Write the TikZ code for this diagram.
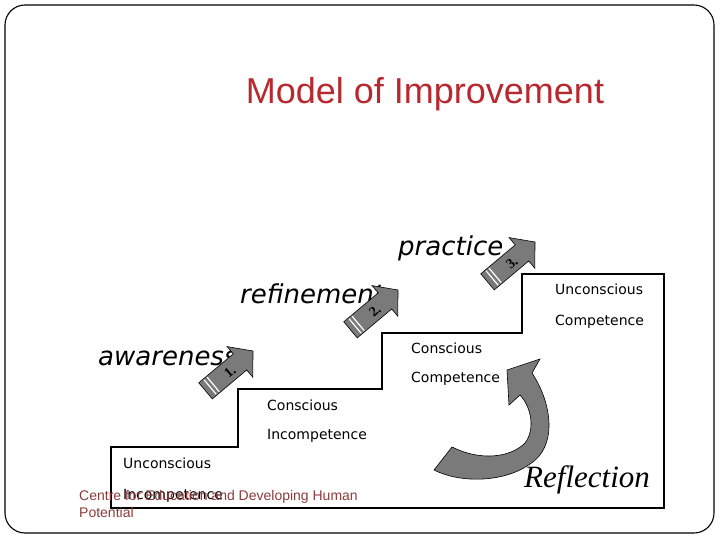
\documentclass[tikz,border=0pt]{standalone}
\usepackage{fontspec}
\setmainfont{Liberation Serif}
\newfontfamily\titlefont{Liberation Sans}
\newfontfamily\stepfont{DejaVu Sans}
\newfontfamily\handfont{DejaVu Sans}
\usetikzlibrary{positioning}
\definecolor{titlered}{HTML}{B8292F}
\definecolor{footred}{HTML}{8E3B3B}
\definecolor{arrowgray}{HTML}{7A7A7A}

\begin{document}
\begin{tikzpicture}[
  x=1pt, y=-1pt,
  frame/.style={draw, line width=1.1pt, rounded corners=20pt},
  stairs/.style={draw, line width=2.6pt, line join=miter},
  stage/.style={font=\stepfont\fontsize{14}{16}\selectfont, anchor=base west, inner sep=0pt},
  phase/.style={font=\handfont\itshape\fontsize{26}{30}\selectfont, anchor=base west, inner sep=0pt},
  blockar/.style={fill=arrowgray, draw=black, line width=0.6pt, line join=miter},
  stepar/.pic={
    \path[blockar] (0,0) -- (-17,20) -- (-17,10.5) -- (-62,10.5) -- (-62,-10.5)
      -- (-17,-10.5) -- (-17,-20) -- cycle;
    \draw[white, line width=1.2pt] (-52,9.5) -- (-52,-9.5) (-56,9.5) -- (-56,-9.5);
    \node[font=\bfseries\fontsize{14}{14}\selectfont, transform shape] (-lbl) at (-31,1) {#1};
  }
]
\useasboundingbox (0,0) rectangle (720,540);
\path[frame] (5,5) rectangle (714,533);

\node[font=\titlefont\fontsize{36}{40}\selectfont, text=titlered, anchor=base] (title) at (425,104) {Model of Improvement};

% staircase
\path[stairs] (111,508) -- (111,447) -- (238,447) -- (238,389) -- (382,389)
  -- (382,333) -- (522,333) -- (522,274) -- (664,274) -- (664,508) -- cycle;

\node[stage] (uc1) at (123,468) {Unconscious};
\node[stage] (ui1) at (123,499) {Incompetence};
\node[stage] (cc1) at (267,410) {Conscious};
\node[stage] (ci1) at (267,439) {Incompetence};
\node[stage] (cc2) at (411,353) {Conscious};
\node[stage] (cp2) at (411,382) {Competence};
\node[stage] (uc2) at (555,294) {Unconscious};
\node[stage] (up2) at (555,325) {Competence};

% phases
\node[phase] (aware) at (98,365) {awareness};
\node[phase] (refine) at (240,303) {refinement};
\node[phase] (practice) at (398,255) {practice};

\pic[rotate=40] (one) at (253,351) {stepar=1.};
\pic[rotate=40] (two) at (398,290) {stepar=2.};
\pic[rotate=40] (three) at (535,242) {stepar=3.};

% reflection arrow
\path[blockar] (540,359) -- (532,373)
  .. controls (553,405) and (557,447) .. (530,464)
  .. controls (505,482) and (462,484) .. (434,470)
  -- (452,447)
  .. controls (480,461) and (510,458) .. (525,443)
  .. controls (535,430) and (532,408) .. (520,395)
  -- (509,405) -- (507,370) -- cycle;
\node[font=\itshape\fontsize{31}{34}\selectfont, anchor=base west, inner sep=0pt] (refl) at (524,487) {Reflection};

\node[font=\titlefont\fontsize{14}{16.5}\selectfont, text=footred, align=left, anchor=base west, inner sep=0pt] (foot) at (79,517) {Centre for Education and Developing Human\\Potential};
\end{tikzpicture}
\end{document}
